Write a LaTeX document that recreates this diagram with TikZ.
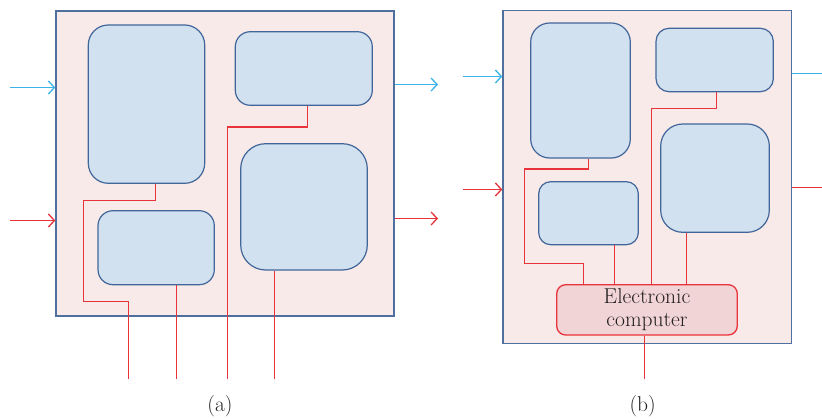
\documentclass[tikz,border=0pt]{standalone}
\usepackage{fontspec}
\usetikzlibrary{calc,arrows.meta}
\definecolor{panelfill}{HTML}{F9EAEA}
\definecolor{panelline}{HTML}{4F6F9F}
\definecolor{boxfill}{HTML}{D2E1EF}
\definecolor{boxline}{HTML}{41669A}
\definecolor{wirered}{HTML}{E8333B}
\definecolor{flowblue}{HTML}{3BB3E6}
\definecolor{ecfill}{HTML}{F1D4D5}
\definecolor{textgray}{HTML}{231F20}
\tikzset{
  panel/.style={draw=panelline,fill=panelfill,line width=1.4pt},
  unit/.style={draw=boxline,fill=boxfill,line width=1.2pt,inner sep=0pt,rectangle},
  wire/.style={draw=wirered,line width=1.3pt},
  inarrow/.style={line width=1.3pt,-{Straight Barb[length=6pt,width=13pt]}},
  ecbox/.style={draw=wirered,fill=ecfill,line width=1.3pt,rounded corners=9pt,inner sep=0pt,
    align=center,text=textgray,font=\fontsize{21.5}{22.5}\selectfont},
  caption/.style={text=textgray,font=\fontsize{21.5}{22}\selectfont,inner sep=0pt}
}
\begin{document}
\begin{tikzpicture}[x=1pt,y=-1pt]
\useasboundingbox (0,0) rectangle (822,419);
% ---------- panel (a)
\node[panel,minimum width=338pt,minimum height=305pt,inner sep=0pt] (PA) at (225,163.5) {};
\node[unit,rounded corners=20pt,minimum width=116.4pt,minimum height=158.3pt] (A1) at (146.5,104.15) {};
\node[unit,rounded corners=15pt,minimum width=137pt,minimum height=73.6pt] (A2) at (303.8,68.5) {};
\node[unit,rounded corners=15pt,minimum width=116.3pt,minimum height=74pt] (A3) at (156.15,247.7) {};
\node[unit,rounded corners=25pt,minimum width=126.6pt,minimum height=126.3pt] (A4) at (304,206.85) {};
\coordinate (ainb) at (10,87.5);
\coordinate (ainr) at (10,220.5);
\coordinate (aoutb) at (438,84.5);
\coordinate (aoutr) at (438,218.5);
\draw[inarrow,flowblue] (ainb) -- (ainb -| PA.west);
\draw[inarrow,wirered] (ainr) -- (ainr -| PA.west);
\draw[inarrow,flowblue] (aoutb -| PA.east) -- (aoutb);
\draw[inarrow,wirered] (aoutr -| PA.east) -- (aoutr);
\coordinate (a1w) at ($(A1.south)+(9,0)$);
\coordinate (a2w) at ($(A2.south)+(3.7,0)$);
\coordinate (a3w) at ($(A3.south)+(20.35,0)$);
\coordinate (a4w) at ($(A4.south)+(-29.5,0)$);
\coordinate (a1e) at (128.5,379);
\coordinate (a2e) at (227.5,379);
\draw[wire] (a1w) -- ++(0,16.5) -| (83.5,301.5) -| (a1e);
\draw[wire] (a3w) -- (a3w |- a1e);
\draw[wire] (a2w) -- ++(0,21) -| (a2e);
\draw[wire] (a4w) -- (a4w |- a1e);
\node[caption] (capa) at (220,406.5) {(a)};
% ---------- panel (b)
\node[panel,minimum width=288.3pt,minimum height=332.6pt,inner sep=0pt] (PB) at (647.15,177) {};
\node[unit,rounded corners=19pt,minimum width=99.6pt,minimum height=135pt] (B1) at (580.5,90.5) {};
\node[unit,rounded corners=13pt,minimum width=117.3pt,minimum height=63.4pt] (B2) at (714.65,60) {};
\node[unit,rounded corners=12pt,minimum width=99.6pt,minimum height=63pt] (B3) at (588.5,213.2) {};
\node[unit,rounded corners=22pt,minimum width=108.6pt,minimum height=108.3pt] (B4) at (715,178.15) {};
\node[ecbox,minimum width=180.6pt,minimum height=50.3pt] (EC) at (647,309.85) {Electronic\\computer};
\coordinate (binb) at (463.3,76.5);
\coordinate (binr) at (463.3,189.5);
\coordinate (boutb) at (822,73.5);
\coordinate (boutr) at (822,187.5);
\draw[inarrow,flowblue] (binb) -- (binb -| PB.west);
\draw[inarrow,wirered] (binr) -- (binr -| PB.west);
\draw[line width=1.3pt,flowblue] (boutb -| PB.east) -- (boutb);
\draw[line width=1.3pt,wirered] (boutr -| PB.east) -- (boutr);
\coordinate (b1w) at ($(B1.south)+(8,0)$);
\coordinate (b2w) at ($(B2.south)+(1.85,0)$);
\coordinate (b3w) at ($(B3.south)+(26,0)$);
\coordinate (b4w) at ($(B4.south)+(-28.5,0)$);
\coordinate (b1e) at ($(EC.north)+(-63.5,0)$);
\coordinate (b2e) at ($(EC.north)+(4.5,0)$);
\coordinate (ecw) at ($(EC.south)+(-2.5,0)$);
\coordinate (ecend) at (644.5,379.3);
\draw[wire] (b1w) -- ++(0,10.5) -| (524.5,263.5) -| (b1e);
\draw[wire] (b3w) -- (b3w |- EC.north);
\draw[wire] (b2w) -- ++(0,16) -| (b2e);
\draw[wire] (b4w) -- (b4w |- EC.north);
\draw[wire] (ecw) -- (ecend);
\node[caption] (capb) at (642.7,406.5) {(b)};
\end{tikzpicture}
\end{document}
